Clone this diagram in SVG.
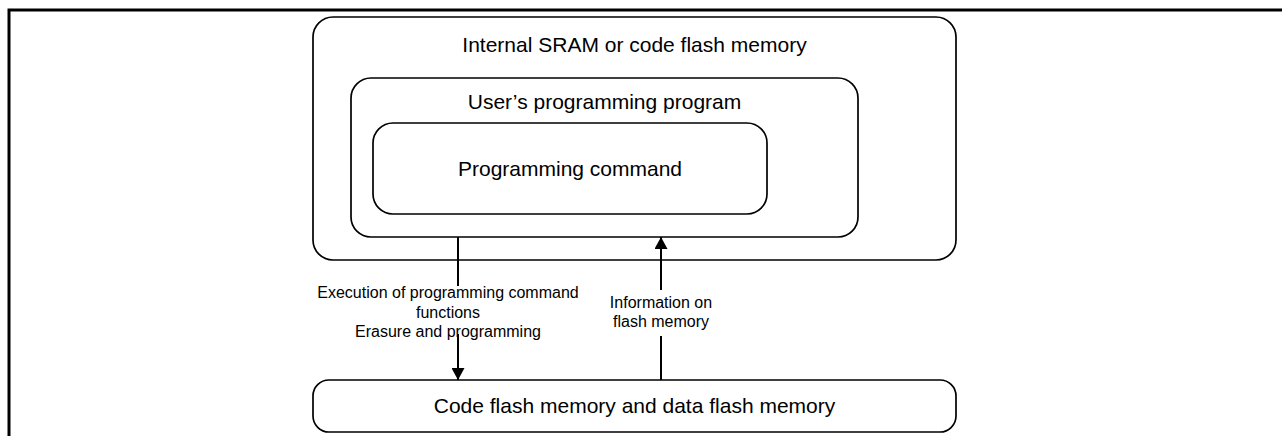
<svg xmlns="http://www.w3.org/2000/svg" width="1282" height="436" viewBox="0 0 1282 436">
<style>
.box{fill:#fff;stroke:#000;stroke-width:1.7}
.big{font-family:"Liberation Sans",Arial,sans-serif;font-size:21px;fill:#000;text-anchor:middle}
.small{font-family:"Liberation Sans",Arial,sans-serif;font-size:16px;fill:#000;text-anchor:middle}
.conn{stroke:#000;stroke-width:2;fill:none}
</style>
<defs>
<marker id="arr" markerWidth="12" markerHeight="13" refX="12" refY="6.5" orient="auto" markerUnits="userSpaceOnUse" viewBox="0 0 12 13">
<path d="M0,0 L12,6.5 L0,13 Z" fill="#000"/>
</marker>
</defs>
<g id="frame">
<path d="M9,436 V10 H1282" fill="none" stroke="#000" stroke-width="3"/>
</g>
<g id="sram">
<rect class="box" x="313" y="17" width="643" height="243" rx="20" ry="20"/>
<text class="big" x="634.5" y="52">Internal SRAM or code flash memory</text>
</g>
<g id="user-program">
<rect class="box" x="351" y="78" width="507" height="159" rx="20" ry="20"/>
<text class="big" x="604.5" y="108.5">User’s programming program</text>
</g>
<g id="programming-command">
<rect class="box" x="373" y="123" width="394" height="91" rx="20" ry="20"/>
<text class="big" x="570" y="176">Programming command</text>
</g>
<g id="flash">
<rect class="box" x="313" y="380" width="643" height="52" rx="16" ry="16"/>
<text class="big" x="634.5" y="413">Code flash memory and data flash memory</text>
</g>
<g id="connectors">
<line class="conn" x1="458" y1="237" x2="458" y2="286"/>
<line class="conn" x1="458" y1="334" x2="458" y2="380" marker-end="url(#arr)"/>
<text class="small" x="448" y="298">Execution of programming command</text>
<text class="small" x="448" y="318">functions</text>
<text class="small" x="448" y="337">Erasure and programming</text>
<line class="conn" x1="661" y1="380" x2="661" y2="336"/>
<line class="conn" x1="661" y1="290" x2="661" y2="237" marker-end="url(#arr)"/>
<text class="small" x="661" y="308">Information on</text>
<text class="small" x="661" y="327">flash memory</text>
</g>
</svg>
